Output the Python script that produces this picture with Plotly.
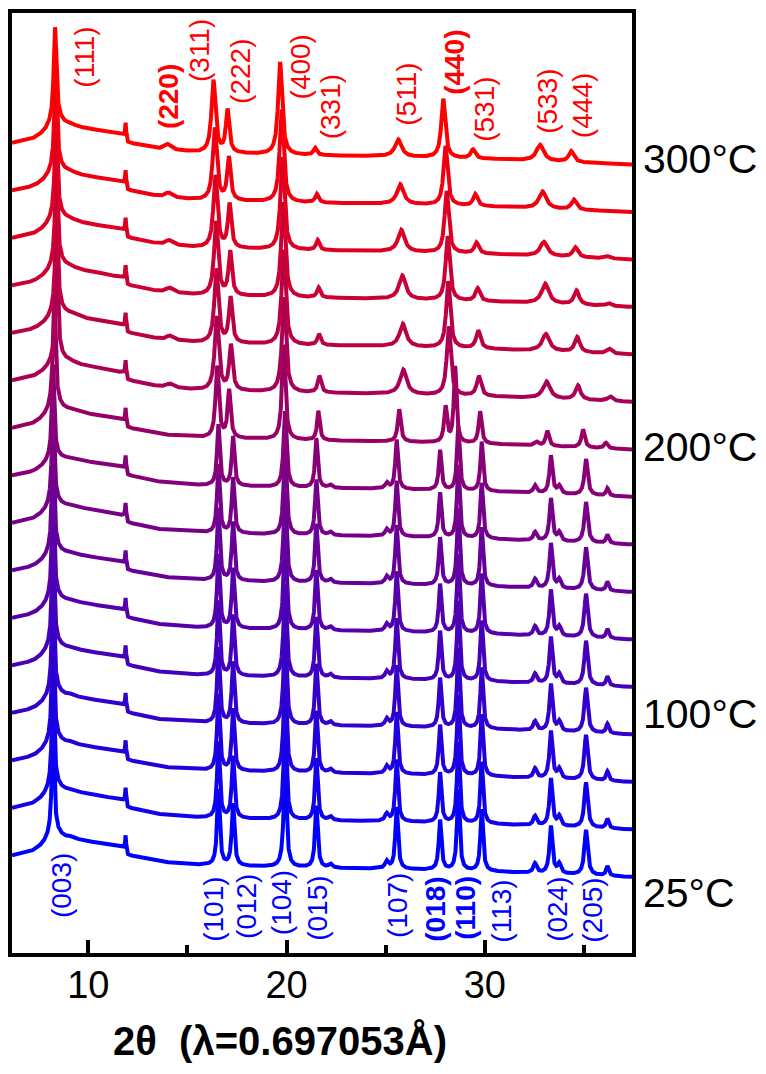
import numpy as np
import plotly.graph_objects as go

# ---------------- data ----------------
# 2-theta window of the frame (degrees)
X_MIN, X_MAX = 6.15, 37.42
# y window (stack units, one unit = spacing of consecutive patterns)
Y_MIN, Y_MAX = 0.0, 19.79
N_PATTERNS = 16              # 25 °C (bottom) ... 300 °C (top)
BASE0 = 1.60                 # right-end level of the bottom pattern
STEP = 1.0                   # vertical offset between patterns

# common background (relative to right-end level)
BG_X = [6.15, 7.2, 8.2, 9.1, 10.6, 11.88, 11.98, 13.6, 15.6, 20.0, 25.0, 30.5, 37.42]
BG_Y = [0.44, 0.50, 0.62, 0.77, 0.70, 0.60, 0.46, 0.32, 0.25, 0.20, 0.17, 0.11, 0.00]

# instrument spike present in every pattern
SPIKE_POS, SPIKE_H, SPIKE_W = 11.88, 0.27, 0.03

# layered (R-3m) phase, patterns 0..8
LAYERED_POS = [8.22, 8.25, 16.56, 17.30, 19.92, 21.50, 22.20, 25.05, 25.55, 27.74,
               28.66, 29.84, 32.53, 33.33, 33.75, 35.10, 36.18]
LAYERED_H = [2.40, 0.30, 1.60, 1.30, 2.00, 1.30, 0.08, 0.15, 1.30, 1.05,
             1.70, 1.30, 0.20, 1.00, 0.20, 0.95, 0.20]
LAYERED_W = [0.07, 0.50, 0.08, 0.08, 0.09, 0.08, 0.10, 0.10, 0.08, 0.08,
             0.08, 0.08, 0.10, 0.09, 0.10, 0.10, 0.08]
LAYERED_SCALE = [1.00, 1.00, 1.00, 0.99, 0.98, 0.97, 0.95, 0.90, 0.80]

# transitional pattern (index 9, 200 °C)
TRANS_POS = [8.28, 8.30, 16.50, 17.10, 19.85, 21.60, 25.68, 28.02, 28.50, 29.76,
             32.60, 33.15, 34.95, 36.10]
TRANS_H = [2.30, 0.30, 1.50, 1.00, 2.00, 0.62, 0.68, 0.75, 1.60, 0.68,
           0.08, 0.32, 0.38, 0.12]
TRANS_W = [0.08, 0.50, 0.10, 0.09, 0.10, 0.08, 0.09, 0.09, 0.08, 0.09,
           0.12, 0.10, 0.10, 0.10]

# spinel (Fd-3m) phase, patterns 10..15 ; positions at 300 °C
SPINEL_POS = [8.32, 8.35, 13.97, 16.31, 17.02, 19.67, 21.44, 25.63, 27.90, 29.40,
              32.78, 34.35, 35.95]
SPINEL_W = [0.08, 0.50, 0.20, 0.12, 0.10, 0.12, 0.10, 0.20, 0.12, 0.13,
            0.22, 0.15, 0.15]
SPINEL_H = [  # rows: pattern 10 .. 15
    [2.10, 0.30, 0.08, 1.55, 0.95, 2.00, 0.35, 0.52, 1.45, 0.42, 0.36, 0.30, 0.10],
    [2.10, 0.30, 0.09, 1.55, 0.95, 2.00, 0.23, 0.48, 1.40, 0.38, 0.36, 0.32, 0.10],
    [2.00, 0.30, 0.10, 1.55, 0.92, 2.00, 0.21, 0.50, 1.35, 0.27, 0.42, 0.30, 0.06],
    [2.00, 0.30, 0.10, 1.52, 0.92, 1.95, 0.21, 0.46, 1.30, 0.23, 0.30, 0.21, 0.05],
    [2.00, 0.30, 0.10, 1.52, 0.90, 1.95, 0.18, 0.42, 1.25, 0.25, 0.36, 0.21, 0.00],
    [1.95, 0.30, 0.12, 1.52, 0.90, 1.95, 0.15, 0.36, 1.24, 0.19, 0.34, 0.23, 0.00],
]
SPINEL_SHIFT = [1.010, 1.009, 1.008, 1.006, 1.004, 1.000]

# labels
SPINEL_LABELS = ["(111)", "(220)", "(311)", "(222)", "(400)", "(331)",
                 "(511)", "(440)", "(531)", "(533)", "(444)"]
SPINEL_LABEL_BOLD = ["(220)", "(440)"]
SPINEL_LABEL_X = [9.83, 14.02, 15.58, 17.70, 20.69, 22.20, 26.07, 28.49, 30.00, 33.18, 34.90]
SPINEL_LABEL_Y = [18.87, 18.02, 19.01, 18.55, 18.65, 17.81, 18.09, 18.76, 17.77, 17.94, 17.83]

LAYERED_LABELS = ["(003)", "(101)", "(012)", "(104)", "(015)", "(107)",
                  "(018)", "(110)", "(113)", "(024)", "(205)"]
LAYERED_LABEL_BOLD = ["(018)", "(110)"]
LAYERED_LABEL_X = [8.62, 16.34, 18.00, 19.72, 21.58, 25.62, 27.53, 29.04, 30.86, 33.69, 35.45]
LAYERED_LABEL_Y = [1.43, 0.91, 0.99, 1.05, 0.95, 0.99, 0.93, 0.95, 0.89, 0.91, 0.91]

TEMP_LABELS = ["300°C", "200°C", "100°C", "25°C"]
TEMP_LABEL_Y = [16.72, 10.65, 5.03, 1.27]

X_TITLE = "2θ  (λ=0.697053Å)"

# ---------------- build figure ----------------
FONT = "Liberation Sans, Arial, Helvetica, sans-serif"
x = np.arange(X_MIN, X_MAX + 1e-9, 0.01)
bg = np.interp(x, BG_X, BG_Y)


def lorentz(pos, h, w):
    return h / (1.0 + ((x - pos) / w) ** 2)


def pattern(i):
    y = bg + lorentz(SPIKE_POS, SPIKE_H, SPIKE_W)
    if i <= 8:
        s = LAYERED_SCALE[i]
        for p, h, w in zip(LAYERED_POS, LAYERED_H, LAYERED_W):
            y = y + lorentz(p, h * s, w)
    elif i == 9:
        for p, h, w in zip(TRANS_POS, TRANS_H, TRANS_W):
            y = y + lorentz(p, h, w)
    else:
        k = i - 10
        for p, h, w in zip(SPINEL_POS, SPINEL_H[k], SPINEL_W):
            y = y + lorentz(p * SPINEL_SHIFT[k], h, w)
    return y + BASE0 + i * STEP


def colour(i):
    t = i / (N_PATTERNS - 1)
    return "rgb(%d,0,%d)" % (round(255 * t), round(255 * (1 - t)))


fig = go.Figure()
for i in range(N_PATTERNS):
    fig.add_trace(go.Scatter(x=x, y=pattern(i), mode="lines",
                             line=dict(color=colour(i), width=4),
                             name="pattern %d" % (i + 1), showlegend=False,
                             hoverinfo="skip"))

ann = []
for t, lx, ly in zip(SPINEL_LABELS, SPINEL_LABEL_X, SPINEL_LABEL_Y):
    txt = "<b>%s</b>" % t if t in SPINEL_LABEL_BOLD else t
    ann.append(dict(x=lx, y=ly, xref="x", yref="y", text=txt, textangle=-90,
                    showarrow=False, xanchor="center", yanchor="middle",
                    font=dict(family=FONT, size=28, color="#ff0000")))
for t, lx, ly in zip(LAYERED_LABELS, LAYERED_LABEL_X, LAYERED_LABEL_Y):
    txt = "<b>%s</b>" % t if t in LAYERED_LABEL_BOLD else t
    ann.append(dict(x=lx, y=ly, xref="x", yref="y", text=txt, textangle=-90,
                    showarrow=False, xanchor="center", yanchor="middle",
                    font=dict(family=FONT, size=28, color="#0000ff")))
for t, ly in zip(TEMP_LABELS, TEMP_LABEL_Y):
    ann.append(dict(x=1, y=ly, xref="paper", yref="y", text=t, showarrow=False,
                    xanchor="left", yanchor="middle", xshift=9,
                    font=dict(family=FONT, size=41, color="black")))
ann.append(dict(x=19.67, y=0, xref="x", yref="paper", text="<b>%s</b>" % X_TITLE,
                showarrow=False, xanchor="center", yanchor="middle", yshift=-88,
                font=dict(family=FONT, size=40, color="black")))

# page body adds an 8 px margin, so the figure is 8 px smaller than the window
fig.update_layout(
    width=758, height=1066,
    margin=dict(l=4, r=134, t=5, b=121, autoexpand=False),
    paper_bgcolor="white", plot_bgcolor="white",
    showlegend=False, annotations=ann,
)
fig.update_xaxes(range=[X_MIN, X_MAX], showline=True, linewidth=4, linecolor="black",
                 mirror=True, ticks="inside", ticklen=13, tickwidth=4, tickcolor="black",
                 tick0=10, dtick=10, showgrid=False, zeroline=False,
                 minor=dict(ticks="inside", ticklen=8, tickwidth=4, tickcolor="black",
                            tick0=5, dtick=5, showgrid=False),
                 tickfont=dict(family=FONT, size=38, color="black"),
                 ticklabelstandoff=-5, automargin=False)
fig.update_yaxes(range=[Y_MIN, Y_MAX], showline=True, linewidth=4, linecolor="black",
                 mirror=True, ticks="", showticklabels=False, showgrid=False,
                 zeroline=False, automargin=False)

fig.write_html("out.html")
